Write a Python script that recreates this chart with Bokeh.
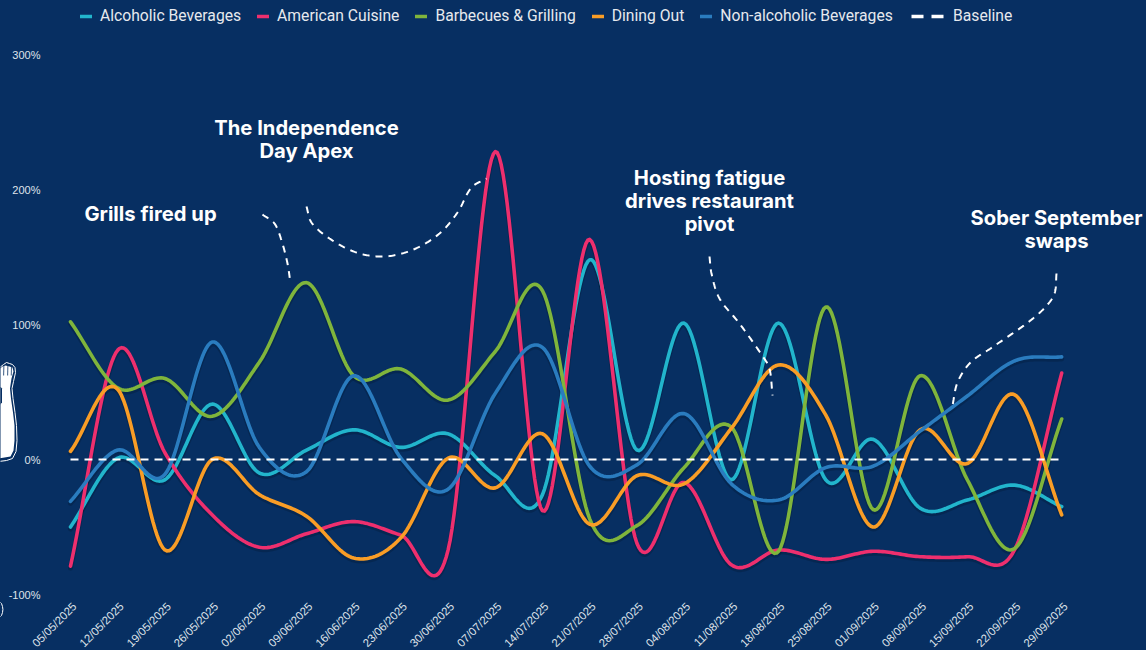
import numpy as np
from bokeh.embed import file_html
from bokeh.resources import INLINE
from bokeh.plotting import figure
from bokeh.models import Range1d, FixedTicker, Legend, LegendItem, PolyAnnotation
from bokeh.core.properties import value

dates = ["05/05/2025","12/05/2025","19/05/2025","26/05/2025","02/06/2025","09/06/2025","16/06/2025","23/06/2025",
         "30/06/2025","07/07/2025","14/07/2025","21/07/2025","28/07/2025","04/08/2025","11/08/2025","18/08/2025",
         "25/08/2025","01/09/2025","08/09/2025","15/09/2025","22/09/2025","29/09/2025"]
alcoholic = [-50,1,-15,41,-10,7,22,9,19,-12,-26,148,7,101,-15,101,-15,15,-36,-30,-19,-35]
american = [-79,81,5,-41,-65,-55,-46,-56,-67,228,-38,163,-62,-17,-78,-67,-74,-68,-72,-72,-67,64]
barbecues = [102,53,60,32,72,131,62,67,44,80,125,-44,-49,-6,24,-68,113,-37,62,-15,-66,30]
dining = [6,52,-67,0,-26,-42,-73,-58,1,-21,19,-48,-12,-18,23,70,33,-50,22,-3,48,-41]
nonalc = [-31,7,-11,87,9,-9,62,1,-22,49,83,-5,-4,34,-18,-30,-6,-5,21,47,73,76]
baseline = [0]*22
series = [("Alcoholic Beverages",alcoholic,"#22b5cc"),("American Cuisine",american,"#ee2f6e"),
          ("Barbecues & Grilling",barbecues,"#7fb53c"),("Dining Out",dining,"#f99d26"),
          ("Non-alcoholic Beverages",nonalc,"#2a7cbf")]
y_ticks = [-100,0,100,200,300]
BG = "#072f62"

W,H = 1146,650
FL,FR,FT,FB = 0,1146,0,650       # frame edges on the page
x0,dx = 70.0,47.2                # page x of first date, px per date
y0,dy = 459.0,1.35               # frame y of 0%, px per percent
xd = lambda px:(np.asarray(px,float)-x0)/dx
yd = lambda py:(y0-np.asarray(py,float))/dy

def smooth(xs,ys,n=24):
    xs=np.asarray(xs,float); ys=np.asarray(ys,float)
    m=np.gradient(ys,xs,edge_order=1)
    m[1:-1]=(ys[2:]-ys[:-2])/(xs[2:]-xs[:-2])
    X=[];Y=[]
    for i in range(len(xs)-1):
        h=xs[i+1]-xs[i]
        t=np.linspace(0,1,n,endpoint=False)
        X.append(xs[i]+t*h)
        Y.append((2*t**3-3*t**2+1)*ys[i]+(t**3-2*t**2+t)*h*m[i]+(-2*t**3+3*t**2)*ys[i+1]+(t**3-t**2)*h*m[i+1])
    X.append(xs[-1:]);Y.append(ys[-1:])
    return np.concatenate(X),np.concatenate(Y)

p = figure(width=W,height=H,output_backend="svg",toolbar_location=None,
           x_range=Range1d(float(xd(FL)),float(xd(FR))),y_range=Range1d(float(yd(FB)),float(yd(FT))),
           min_border_left=0,min_border_right=0,min_border_top=0,min_border_bottom=0,
           background_fill_color=None,border_fill_color=BG,outline_line_color=None)
p.styles={"background-color":BG}
p.grid.visible=False
idx=np.arange(len(dates))

# decorative figure clipped at the left edge (page pixels; screen units count from the frame's lower left)
def deco(xs,ys,fill=None,line=None,lw=1):
    p.add_layout(PolyAnnotation(xs=[x-FL for x in xs],ys=[FB-y for y in ys],xs_units="screen",ys_units="screen",
                                fill_color=fill,fill_alpha=1 if fill else 0,
                                line_color=line,line_alpha=1 if line else 0,line_width=lw))
deco([-2,3,6,9,12,14.5,15,13,11.5,12.5,14.5,16,16.5,15.5,12,6,-2],
     [368,364,362,363,364,367,372,381,388,398,412,425,440,451,458,460,461],line="white")
deco([-2,2,5,9,12,13,11,9.5,10.5,12.5,14,14,13,10,-2],
     [369,366,365,366,367,371,378,388,398,412,425,440,450,456,458],fill="white")
deco([-2,1.5,1.5,-2],[384,388,402,406],fill=BG)
for fx in (3,7,10.5):
    deco([fx,fx+0.8,fx+0.6,fx-0.2],[365,365,375,375],fill=BG)
deco([-2,1,2,2.4,2,1,-2],[600,603,606,609,612,615,618],line="white")

# drop shadows
for name,vals,c in series:
    sx,sy=smooth(idx,vals)
    p.line(sx,sy-2.0/dy,line_color="black",line_alpha=0.16,line_width=5,line_cap="round",line_join="round")

rend={}
for name,vals,c in series:
    sx,sy=smooth(idx,vals)
    rend[name]=p.line(sx,sy,line_color=c,line_width=3.6,line_cap="round",line_join="round")
p.line(idx,baseline,line_color="white",line_width=2,line_dash="8 6")
# off-view copy of the baseline: only its heavier legend key is seen
key=p.line(idx,[v-1000 for v in baseline],line_color="white",line_width=3.4,line_dash="12 8")

# callouts
for pts in ([(262,214),(274,223),(281,240),(287,263),(290,283)],
            [(306,206),(311,222),(329,238),(356,252),(384,256),(413,249),(439,233),(457,212),(471,187),(486,178)],
            [(709,256),(711,273),(719,298),(739,323),(763,357),(769,368),(772,395)],
            [(1056,273),(1054,293),(1044.5,307),(1026,323),(991.5,347),(970,362),(957,382),(952,405)]):
    a=np.array(pts,float)
    s=np.r_[0,np.cumsum(np.hypot(*np.diff(a,axis=0).T))]
    _,cx=smooth(s,a[:,0]); _,cy=smooth(s,a[:,1])
    p.line(xd(cx),yd(cy),line_color="white",line_width=2,line_dash="7 6")
notes=[("Grills fired up",150,213),("The Independence",306,127),("Day Apex",306,150),
       ("Hosting fatigue",709,177),("drives restaurant",709,200),("pivot",709,223),
       ("Sober September",1056,217),("swaps",1056,240)]
p.text(x=xd([n[1] for n in notes]),y=yd([n[2] for n in notes]),text=[n[0] for n in notes],
       text_color="white",text_font=value("Inter"),text_font_style="bold",text_font_size="20.2px",
       text_align="center",text_baseline="middle")

p.yaxis.ticker=FixedTicker(ticks=y_ticks)
p.yaxis.major_label_overrides={v:f"{v}%" for v in y_ticks}
p.yaxis.fixed_location=float(xd(48))
# the rotated labels sit a few pixels to the right of their dates
label_pos=[round(float(i)+0.085,3) for i in idx]
p.xaxis.ticker=FixedTicker(ticks=label_pos)
p.xaxis.major_label_overrides={k:d for k,d in zip(label_pos,dates)}
p.xaxis.major_label_orientation=np.pi/4
p.xaxis.fixed_location=float(yd(597))
for ax,size,st in ((p.yaxis,"11px",8),(p.xaxis,"11.4px",7)):
    ax.axis_line_color=None; ax.major_tick_line_color=None; ax.minor_tick_line_color=None
    ax.major_tick_out=0; ax.major_tick_in=0; ax.minor_tick_out=0; ax.minor_tick_in=0
    ax.major_label_text_color="#dfe3ea"; ax.major_label_text_font="Liberation Sans"
    ax.major_label_text_font_size=size; ax.major_label_standoff=st

def legend(items,x,gw):
    l=Legend(items=items,orientation="horizontal",location=(x,FB-25),glyph_width=gw,glyph_height=16,
             label_standoff=8,spacing=16,padding=0,margin=0,background_fill_alpha=0,border_line_color=None,
             label_text_color="#e6e9ee",label_text_font="Roboto",label_text_font_size="15.7px",label_height=16)
    p.add_layout(l,"center")
legend([LegendItem(label=n,renderers=[rend[n]]) for n,_,_ in series],80-FL,12)
legend([LegendItem(label="Baseline",renderers=[key])],911-FL,34)

open("out.html","w").write(file_html(p,INLINE))
